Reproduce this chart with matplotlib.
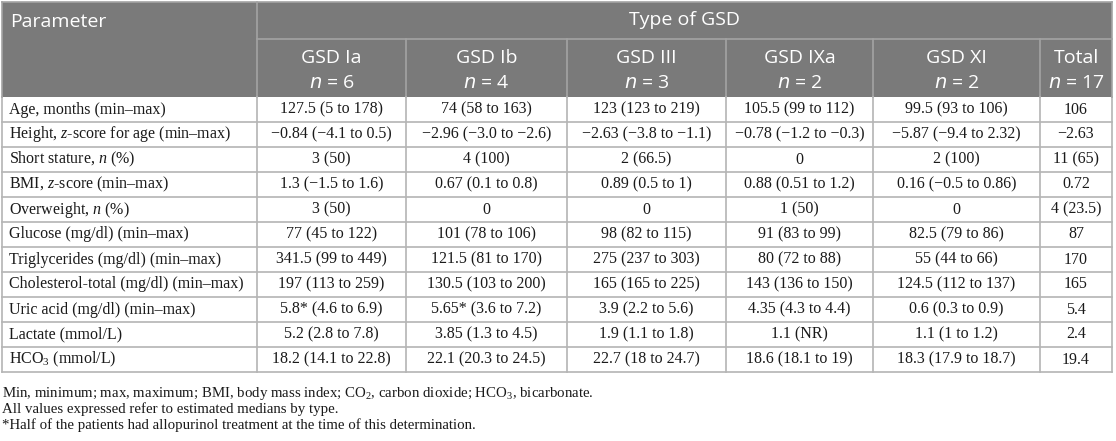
import matplotlib.pyplot as plt
from matplotlib.patches import Rectangle

plt.rcParams['mathtext.fontset'] = 'custom'
plt.rcParams['mathtext.rm'] = 'Liberation Serif'
plt.rcParams['mathtext.it'] = 'Liberation Serif:italic'

# table content
groups = ["GSD Ia", "GSD Ib", "GSD III", "GSD IXa", "GSD XI", "Total"]
group_n = ["6", "4", "3", "2", "2", "17"]

parameters = [
    "Age, months (min\u2013max)",
    "Height, $z$-score for age (min\u2013max)",
    "Short stature, $n$ (%)",
    "BMI, $z$-score (min\u2013max)",
    "Overweight, $n$ (%)",
    "Glucose (mg/dl) (min\u2013max)",
    "Triglycerides (mg/dl) (min\u2013max)",
    "Cholesterol-total (mg/dl) (min\u2013max)",
    "Uric acid (mg/dl) (min\u2013max)",
    "Lactate (mmol/L)",
    "HCO$_3$ (mmol/L)",
]

gsd_ia = ["127.5 (5 to 178)", "\u22120.84 (\u22124.1 to 0.5)", "3 (50)", "1.3 (\u22121.5 to 1.6)",
          "3 (50)", "77 (45 to 122)", "341.5 (99 to 449)", "197 (113 to 259)",
          "5.8* (4.6 to 6.9)", "5.2 (2.8 to 7.8)", "18.2 (14.1 to 22.8)"]
gsd_ib = ["74 (58 to 163)", "\u22122.96 (\u22123.0 to \u22122.6)", "4 (100)", "0.67 (0.1 to 0.8)",
          "0", "101 (78 to 106)", "121.5 (81 to 170)", "130.5 (103 to 200)",
          "5.65* (3.6 to 7.2)", "3.85 (1.3 to 4.5)", "22.1 (20.3 to 24.5)"]
gsd_iii = ["123 (123 to 219)", "\u22122.63 (\u22123.8 to \u22121.1)", "2 (66.5)", "0.89 (0.5 to 1)",
           "0", "98 (82 to 115)", "275 (237 to 303)", "165 (165 to 225)",
           "3.9 (2.2 to 5.6)", "1.9 (1.1 to 1.8)", "22.7 (18 to 24.7)"]
gsd_ixa = ["105.5 (99 to 112)", "\u22120.78 (\u22121.2 to \u22120.3)", "0", "0.88 (0.51 to 1.2)",
           "1 (50)", "91 (83 to 99)", "80 (72 to 88)", "143 (136 to 150)",
           "4.35 (4.3 to 4.4)", "1.1 (NR)", "18.6 (18.1 to 19)"]
gsd_xi = ["99.5 (93 to 106)", "\u22125.87 (\u22129.4 to 2.32)", "2 (100)", "0.16 (\u22120.5 to 0.86)",
          "0", "82.5 (79 to 86)", "55 (44 to 66)", "124.5 (112 to 137)",
          "0.6 (0.3 to 0.9)", "1.1 (1 to 1.2)", "18.3 (17.9 to 18.7)"]
total = ["106", "\u22122.63", "11 (65)", "0.72", "4 (23.5)", "87", "170", "165",
         "5.4", "2.4", "19.4"]

footnotes = [
    "Min, minimum; max, maximum; BMI, body mass index; CO$_2$, carbon dioxide; HCO$_3$, bicarbonate.",
    "All values expressed refer to estimated medians by type.",
    "*Half of the patients had allopurinol treatment at the time of this determination.",
]

columns = [gsd_ia, gsd_ib, gsd_iii, gsd_ixa, gsd_xi, total]

# layout in pixels
col_edges = [2, 257, 406, 567, 726, 873, 1040, 1112]
head_top, head_mid, head_bot = 2, 39, 97
row_h = 25.0

HEAD = "#7a7a7a"
HEAD_LINE = "#a3a3a3"
LINE = "#b4b4b4"

fig = plt.figure(figsize=(11.16, 4.41), dpi=100)
ax = fig.add_axes([0, 0, 1, 1])
ax.set_xlim(0, 1116)
ax.set_ylim(441, 0)
ax.axis("off")

n_rows = len(parameters)
tab_bot = head_bot + n_rows * row_h

# header background
ax.add_patch(Rectangle((col_edges[0], head_top), col_edges[-1] - col_edges[0],
                       head_bot - head_top, facecolor=HEAD, edgecolor="none"))
hfont = dict(family="Open Sans", color="white", fontsize=14)
ax.text(10, 22, "Parameter", ha="left", va="center", **hfont)
ax.text((col_edges[1] + col_edges[-1]) / 2, 20, "Type of GSD", ha="center", va="center", **hfont)
for i, (g, n) in enumerate(zip(groups, group_n)):
    cx = (col_edges[i + 1] + col_edges[i + 2]) / 2
    ax.text(cx, 58, g, ha="center", va="center", **hfont)
    ax.text(cx, 83, "$n$ = " + n, ha="center", va="center",
            math_fontfamily="dejavusans", **hfont)

# header lines
ax.plot([col_edges[1], col_edges[-1]], [head_mid, head_mid], color=HEAD_LINE, lw=1.2)
for x in col_edges[2:-1]:
    ax.plot([x, x], [head_mid, head_bot], color=HEAD_LINE, lw=1.2)
ax.plot([col_edges[1], col_edges[1]], [head_top, head_bot], color=HEAD_LINE, lw=1.2)
ax.plot([col_edges[0], col_edges[-1]], [head_top, head_top], color=HEAD_LINE, lw=1.2)

# body
bfont = dict(family="Liberation Serif", color="#1a1a1a", fontsize=11.5)
for r in range(n_rows):
    y0 = head_bot + r * row_h
    yc = y0 + row_h / 2
    ax.text(9, yc, parameters[r], ha="left", va="center", **bfont)
    for c, col in enumerate(columns):
        cx = (col_edges[c + 1] + col_edges[c + 2]) / 2
        ax.text(cx, yc, col[r], ha="center", va="center", **bfont)
    ax.plot([col_edges[0], col_edges[-1]], [y0 + row_h, y0 + row_h], color=LINE, lw=1.2)

for x in col_edges:
    ax.plot([x, x], [head_bot, tab_bot], color=LINE, lw=1.2)
for x in (col_edges[0], col_edges[-1]):
    ax.plot([x, x], [head_top, head_bot], color=HEAD_LINE, lw=1.2)

# footnotes
for i, t in enumerate(footnotes):
    ax.text(2, 393 + i * 16, t, ha="left", va="center",
            family="Liberation Serif", color="#1a1a1a", fontsize=10.7)

fig.savefig("out.png", dpi=100)
